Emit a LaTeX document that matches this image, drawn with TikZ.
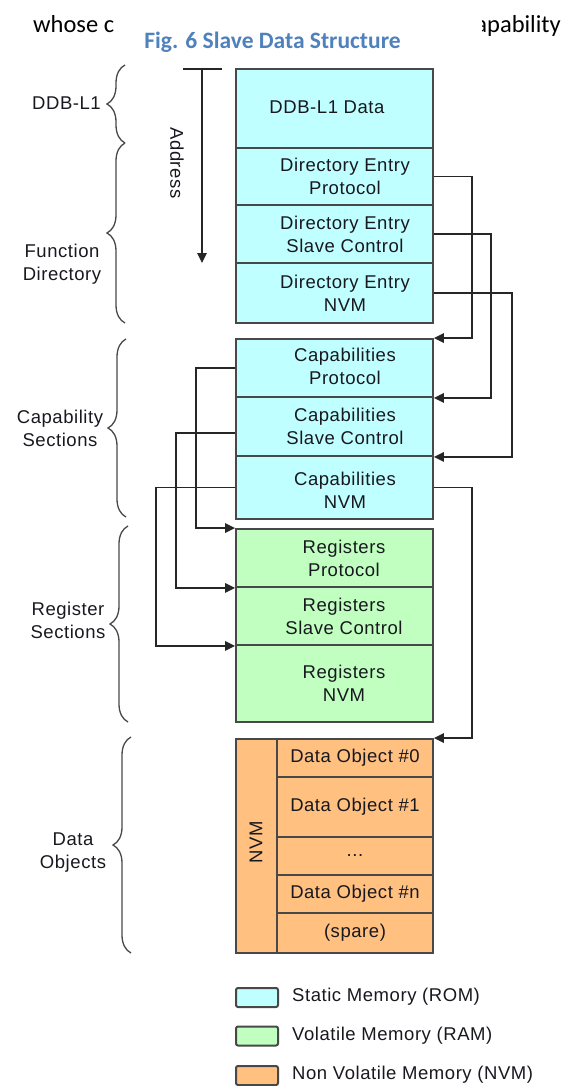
\documentclass[tikz,border=0pt]{standalone}
\usepackage{fontspec}
\usetikzlibrary{arrows.meta,decorations.pathreplacing}
\setmainfont{Liberation Sans}[LetterSpace=3]
\newfontfamily\capfont{Carlito}
\definecolor{rom}{HTML}{C0FFFF}
\definecolor{ram}{HTML}{C0FFC0}
\definecolor{nvm}{HTML}{FFC080}
\definecolor{edge}{HTML}{484848}
\definecolor{ink}{HTML}{18181F}
\definecolor{capblue}{HTML}{4F81BD}

\begin{document}
\begin{tikzpicture}[x=1pt,y=-1pt,
  cell/.style={draw=edge, line width=1.9pt, minimum width=197pt, inner sep=0pt},
  dcell/.style={draw=edge, line width=1.9pt, fill=nvm, minimum width=156pt, inner sep=0pt},
  txt/.style={font=\fontsize{18.5}{23}\selectfont, text=ink, align=center, inner sep=0pt},
  conn/.style={line width=1.5pt, draw=black!85, -{Triangle[length=10pt,width=9.5pt]}},
  wire/.style={line width=1.5pt, draw=black!85},
  grp/.style={draw=edge, line width=1.3pt, decorate, decoration={brace, amplitude=18pt}},
  key/.style={draw=edge, line width=2pt, rounded corners=2pt, minimum width=42pt, minimum height=19pt, inner sep=0pt},
]
\useasboundingbox (0,0) rectangle (570,1086);

% running text of the page, partly hidden by the caption
\node[font=\capfont\fontsize{24.5}{29}\selectfont, anchor=base west, inner sep=0pt] (w1) at (33,33) {whose c};
\node[font=\capfont\fontsize{24.5}{29}\selectfont, anchor=base east, inner sep=0pt] (w2) at (561,33) {capability};
\fill[white] (121,0) rectangle (482,60);
\node[font=\capfont\bfseries\fontsize{23.5}{28}\selectfont, text=capblue, anchor=base, inner sep=0pt] (title) at (272.5,49) {Fig. 6 Slave Data Structure};

% ---- static memory: DDB-L1 and function directory
\node[cell, fill=rom, minimum height=79pt] (ddb) at (334.5,108.5) {};
\node[cell, fill=rom, minimum height=57pt] (dep) at (334.5,176.5) {};
\node[cell, fill=rom, minimum height=58pt] (dsc) at (334.5,234) {};
\node[cell, fill=rom, minimum height=60pt] (dn)  at (334.5,293) {};
\node[txt] (ddbt) at (327,107) {DDB-L1 Data};
\node[txt] (dept) at ([xshift=10.5pt]dep.center) {Directory Entry\\Protocol};
\node[txt] (dsct) at ([xshift=10.5pt]dsc.center) {Directory Entry\\Slave Control};
\node[txt] (dnt)  at ([xshift=10.5pt]dn.center)  {Directory Entry\\NVM};

% ---- static memory: capability sections
\node[cell, fill=rom, minimum height=58pt] (cp)  at (334.5,368) {};
\node[cell, fill=rom, minimum height=59pt] (csc) at (334.5,426.5) {};
\node[cell, fill=rom, minimum height=63pt] (cn)  at (334.5,487.5) {};
\node[txt] (cpt)  at ([xshift=10.5pt,yshift=2pt]cp.center)  {Capabilities\\Protocol};
\node[txt] (csct) at ([xshift=10.5pt]csc.center) {Capabilities\\Slave Control};
\node[txt] (cnt)  at ([xshift=10.5pt,yshift=-3pt]cn.center) {Capabilities\\NVM};

% ---- volatile memory: register sections
\node[cell, fill=ram, minimum height=58pt] (rp)  at (334.5,558) {};
\node[cell, fill=ram, minimum height=58pt] (rsc) at (334.5,616) {};
\node[cell, fill=ram, minimum height=77pt] (rn)  at (334.5,683.5) {};
\node[txt] (rpt)  at ([xshift=9.5pt]rp.center)  {Registers\\Protocol};
\node[txt] (rsct) at ([xshift=9.5pt]rsc.center) {Registers\\Slave Control};
\node[txt] (rnt)  at ([xshift=9.5pt]rn.center)  {Registers\\NVM};

% ---- non volatile memory: data objects
\node[draw=edge, line width=1.9pt, fill=nvm, minimum width=41pt, minimum height=214pt, inner sep=0pt] (nv) at (256.5,846) {};
\node[dcell, minimum height=38pt] (d0) at (355,758) {};
\node[dcell, minimum height=60pt] (d1) at (355,807) {};
\node[dcell, minimum height=38pt] (dx) at (355,856) {};
\node[dcell, minimum height=38pt] (dk) at (355,894) {};
\node[dcell, minimum height=40pt] (ds) at (355,933) {};
\node[txt, rotate=90] (nvt) at (256,842) {NVM};
\node[txt] (d0t) at (d0.center) {Data Object \#0};
\node[txt] (d1t) at (d1.center) {Data Object \#1};
\node[txt] (dxt) at (dx.center) {...};
\node[txt] (dkt) at (dk.center) {Data Object \#n};
\node[txt] (dst) at (ds.center) {(spare)};

% ---- address direction
\coordinate (a0) at (183,69);
\coordinate (a1) at (222,69);
\coordinate (ab) at (202,69);
\coordinate (ae) at (202,263);
\draw[wire] (a0) -- (a1);
\draw[conn] (ab) -- (ae);
\node[txt, rotate=-90] (addr) at (177,163) {Address};

% ---- pointers from directory entries to capability sections
\draw[conn] (dep.east) -- ++(38,0) |- (cp.north east);
\draw[conn] (dsc.east) -- ++(57,0) |- (cp.south east);
\draw[conn] (dn.east)  -- ++(78,0) |- (csc.south east);
\draw[conn] (cn.east)  -- ++(38,0) |- (d0.north east);

% ---- pointers from capability sections to register sections
\draw[conn] (cp.west) -- ++(-39,0) |- (rp.north west);
\draw[conn] ([yshift=-6.5pt]csc.west) -- ++(-59,0) |- (rp.south west);
\draw[conn] (cn.west) -- ++(-79,0) |- (rsc.south west);

% ---- groups
\draw[grp] (125,143) -- (125,65);
\draw[grp] (125,323) -- (125,143);
\draw[grp] (126,517) -- (126,339);
\draw[grp] (128,722) -- (128,526);
\draw[grp] (131,953) -- (131,737);
\node[txt, anchor=east] (g1) at (101,103) {DDB-L1};
\node[txt] (g2) at (62,264) {Function\\Directory};
\node[txt] (g3) at (60,428) {Capability\\Sections};
\node[txt] (g4) at (68,620) {Register\\Sections};
\node[txt] (g5) at (73,853) {Data\\Objects};

% ---- legend
\node[key, fill=rom] (k1) at (257,997.5) {};
\node[key, fill=ram] (k2) at (257,1036) {};
\node[key, fill=nvm] (k3) at (257,1075.5) {};
\node[txt, anchor=west] (k1t) at (292,997) {Static Memory (ROM)};
\node[txt, anchor=west] (k2t) at (292,1036) {Volatile Memory (RAM)};
\node[txt, anchor=west] (k3t) at (292,1075) {Non Volatile Memory (NVM)};
\end{tikzpicture}
\end{document}
